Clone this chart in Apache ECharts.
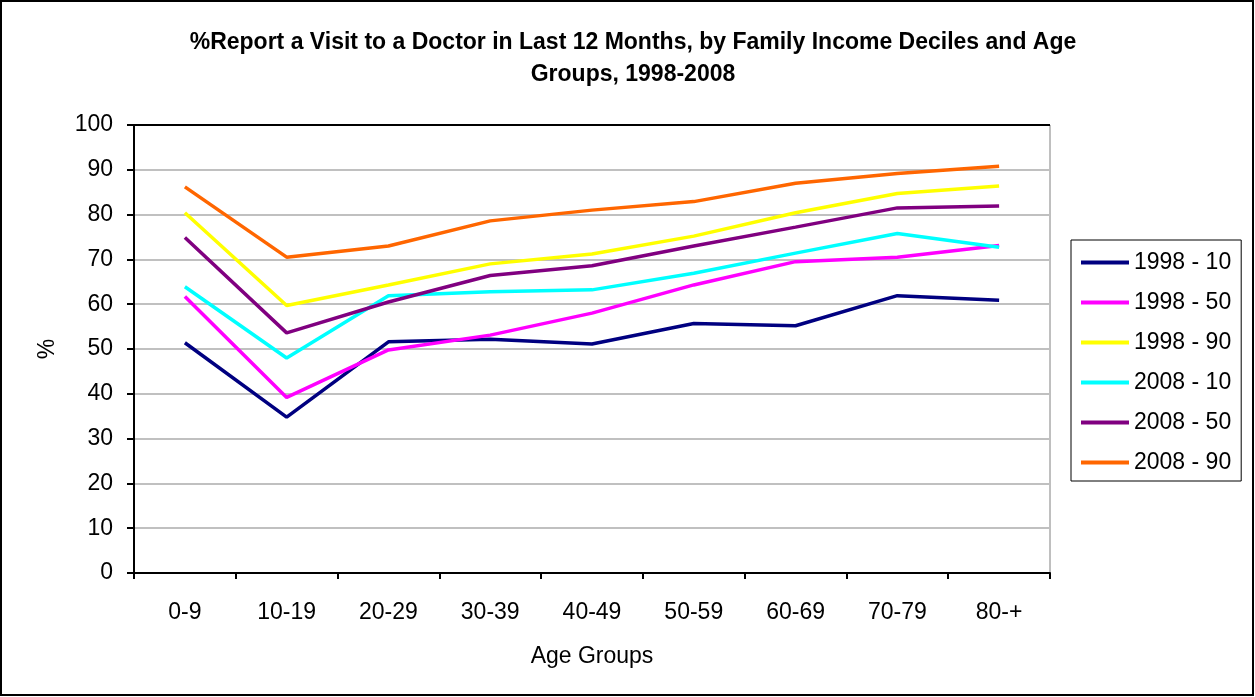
<!DOCTYPE html>
<html><head><meta charset="utf-8">
<script src="https://cdn.jsdelivr.net/npm/echarts@6/dist/echarts.min.js"></script>
<style>html,body{margin:0;padding:0;background:#fff}#c{width:1255px;height:697px}</style>
</head><body><div id="c"></div>
<script>
const categories = ['0-9','10-19','20-29','30-39','40-49','50-59','60-69','70-79','80-+'];
const s1998_10 = [51.4, 34.8, 51.6, 52.2, 51.1, 55.7, 55.2, 61.9, 60.9];
const s1998_50 = [61.7, 39.2, 49.8, 53.1, 58.0, 64.3, 69.5, 70.5, 73.1];
const s1998_90 = [80.4, 59.7, 64.3, 69.0, 71.2, 75.2, 80.4, 84.7, 86.4];
const s2008_10 = [63.9, 48.0, 61.9, 62.8, 63.2, 66.9, 71.4, 75.8, 72.7];
const s2008_50 = [74.9, 53.6, 60.5, 66.4, 68.6, 73.0, 77.2, 81.5, 81.9];
const s2008_90 = [86.2, 70.5, 73.0, 78.6, 81.0, 82.9, 87.0, 89.2, 90.8];
const seriesNames = ['1998 - 10','1998 - 50','1998 - 90','2008 - 10','2008 - 50','2008 - 90'];
const seriesData = [s1998_10, s1998_50, s1998_90, s2008_10, s2008_50, s2008_90];
const colors = ['#000080','#FF00FF','#FFFF00','#00FFFF','#800080','#FF6600'];
const FONT = '"Liberation Sans", Arial, sans-serif';

const chart = echarts.init(document.getElementById('c'), null, {renderer:'canvas'});
chart.setOption({
  animation: false,
  backgroundColor: '#fff',
  textStyle: {fontFamily: FONT},
  title: {
    text: '%Report a Visit to a Doctor in Last 12 Months, by Family Income Deciles and Age\nGroups, 1998-2008',
    top: 22, left: 628, textAlign: 'center',
    textStyle: {fontFamily: FONT, fontSize: 23, fontWeight: 'bold', color: '#000', lineHeight: 32}
  },
  graphic: [{
    type: 'rect', shape: {x: 1, y: 1, width: 1252, height: 694},
    style: {fill: 'none', stroke: '#000', lineWidth: 2}, z: 100, silent: true
  }],
  legend: {
    orient: 'vertical', left: 1071, top: 240,
    padding: [11, 10, 7, 10],
    borderColor: '#000', borderWidth: 1,
    itemWidth: 48, itemHeight: 4, itemGap: 17,
    icon: 'rect',
    textStyle: {fontFamily: FONT, fontSize: 23, color: '#000', lineHeight: 22},
    data: seriesNames
  },
  grid: {left: 134, right: 205, top: 125, bottom: 124, show: true, borderColor: '#808080', borderWidth: 1},
  xAxis: {
    type: 'category', data: categories, boundaryGap: true,
    name: 'Age Groups', nameLocation: 'middle', nameGap: 72,
    nameTextStyle: {fontFamily: FONT, fontSize: 23, color: '#000'},
    axisLine: {lineStyle: {color: '#000', width: 2}},
    axisTick: {show: true, length: 6, alignWithLabel: false, lineStyle: {color: '#000', width: 2}},
    axisLabel: {fontFamily: FONT, fontSize: 23, color: '#000', margin: 28}
  },
  yAxis: {
    type: 'value', min: 0, max: 100, interval: 10,
    name: '%', nameLocation: 'middle', nameGap: 75, nameRotate: 90,
    nameTextStyle: {fontFamily: FONT, fontSize: 23, color: '#000'},
    axisLine: {show: true, lineStyle: {color: '#000', width: 2}},
    axisTick: {show: true, length: 7, lineStyle: {color: '#000', width: 2}},
    axisLabel: {fontFamily: FONT, fontSize: 23, color: '#000', margin: 21},
    splitLine: {show: true, lineStyle: {color: ['#c0c0c0','#c0c0c0','#c0c0c0','#c0c0c0','#c0c0c0','#c0c0c0','#c0c0c0','#c0c0c0','#c0c0c0','#c0c0c0','#000'], width: 2}}
  },
  series: seriesData.map((d, i) => ({
    name: seriesNames[i], type: 'line', data: d,
    symbol: 'none', color: colors[i],
    lineStyle: {color: colors[i], width: 3.5}
  }))
});
</script></body></html>
